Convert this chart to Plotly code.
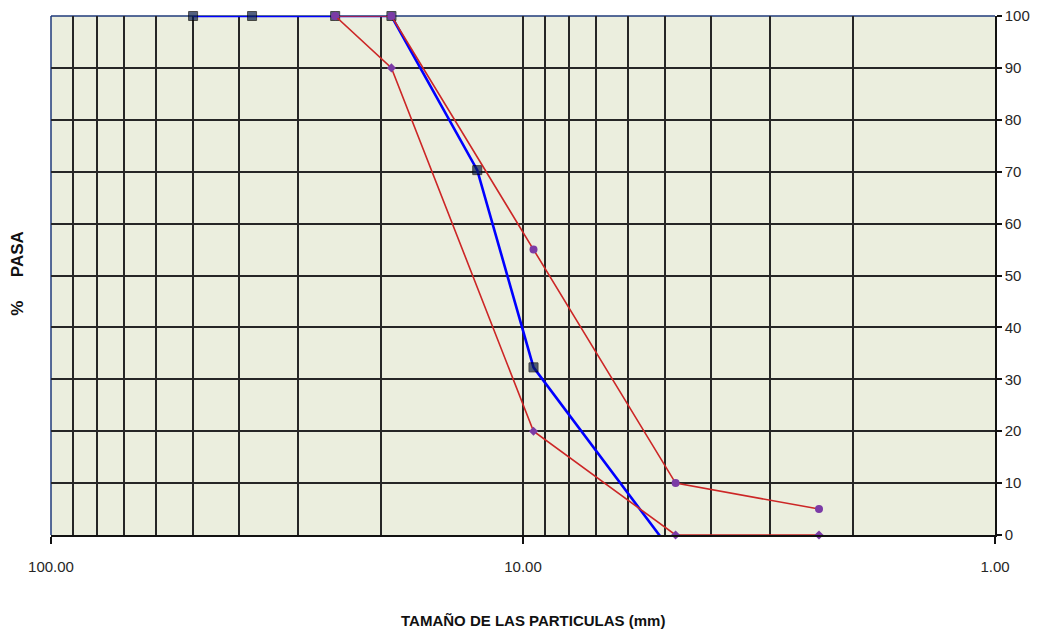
import plotly.graph_objects as go

# Data (sieve sizes in mm, % passing)
muestra_mm = [50.0, 37.5, 25.0, 19.0, 12.5, 9.5, 4.75]
muestra_pasa = [100, 100, 100, 100, 70.3, 32.3, -4.2]

lim_sup_mm = [25.0, 19.0, 9.5, 4.75, 2.36]
lim_sup_pasa = [100, 100, 55, 10, 5]

lim_inf_mm = [25.0, 19.0, 9.5, 4.75, 2.36]
lim_inf_pasa = [100, 90, 20, 0, 0]

x_tickvals = [100, 10, 1]
x_ticktext = ["100.00", "10.00", "1.00"]
x_minor = [90, 80, 70, 60, 50, 40, 30, 20, 9, 8, 7, 6, 5, 4, 3, 2]
y_tickvals = list(range(0, 101, 10))

FONT = "Liberation Sans Narrow, Arial Narrow, Liberation Sans, Arial, sans-serif"
GRID = "#262626"

fig = go.Figure()

fig.add_trace(go.Scatter(
    x=muestra_mm, y=muestra_pasa, mode="lines+markers",
    line=dict(color="#0000FF", width=2.6),
    marker=dict(symbol="square", size=[9, 9, 9, 9, 9, 9, 0], color="#0A1D4A",
                line=dict(color="#000000", width=1)),
    cliponaxis=False, showlegend=False))

fig.add_trace(go.Scatter(
    x=lim_sup_mm, y=lim_sup_pasa, mode="lines+markers",
    line=dict(color="#CC2626", width=1.6),
    marker=dict(symbol="circle", size=8, color="#7B3BA6"),
    cliponaxis=False, showlegend=False))

fig.add_trace(go.Scatter(
    x=lim_inf_mm, y=lim_inf_pasa, mode="lines+markers",
    line=dict(color="#CC2626", width=1.6),
    marker=dict(symbol="diamond", size=7, color="#7B3BA6"),
    cliponaxis=False, showlegend=False))

fig.update_layout(
    width=1038, height=634,
    margin=dict(l=51, r=43, t=16, b=99),
    paper_bgcolor="white", plot_bgcolor="#EBEEDE",
    font=dict(family=FONT, size=15, color="#262626"),
    xaxis=dict(
        type="log", range=[2, 0],
        tickmode="array", tickvals=x_tickvals, ticktext=x_ticktext,
        showgrid=True, gridcolor=GRID, gridwidth=1.6,
        minor=dict(tickmode="array", tickvals=x_minor, showgrid=True,
                   gridcolor=GRID, gridwidth=1.6, ticks=""),
        showline=True, linecolor="#111111", linewidth=2,
        ticks="outside", ticklen=7, tickcolor="#111111", tickwidth=1.5,
        ticklabelstandoff=10, automargin=False,
        zeroline=False,
    ),
    yaxis=dict(
        side="right", range=[0, 100],
        tickmode="array", tickvals=y_tickvals,
        showgrid=True, gridcolor=GRID, gridwidth=1.6,
        showline=True, linecolor="#111111", linewidth=1.5,
        ticks="outside", ticklen=5, tickcolor="#111111", tickwidth=1.5,
        automargin=False, zeroline=False,
    ),
    shapes=[
        dict(type="line", xref="paper", yref="paper", x0=0, x1=1, y0=1, y1=1,
             line=dict(color="#1F3A7A", width=1.5), layer="below"),
        dict(type="line", xref="paper", yref="paper", x0=0, x1=0, y0=0, y1=1,
             line=dict(color="#1F3A7A", width=1.5), layer="below"),
    ],
    annotations=[
        dict(text="<b>TAMAÑO DE LAS PARTICULAS (mm)</b>", xref="paper", yref="paper",
             x=0.511, y=-0.164, xanchor="center", yanchor="middle", showarrow=False,
             font=dict(family=FONT, size=15, color="#111111")),
        dict(text="<b>%     PASA</b>", xref="paper", yref="paper",
             x=-0.035, y=0.505, xanchor="center", yanchor="middle", showarrow=False,
             textangle=-90,
             font=dict(family="Liberation Sans, Arial, sans-serif", size=17, color="#111111")),
    ],
)

fig.write_html("out.html", config={"displayModeBar": False},
               post_script="document.body.style.margin='0';")
